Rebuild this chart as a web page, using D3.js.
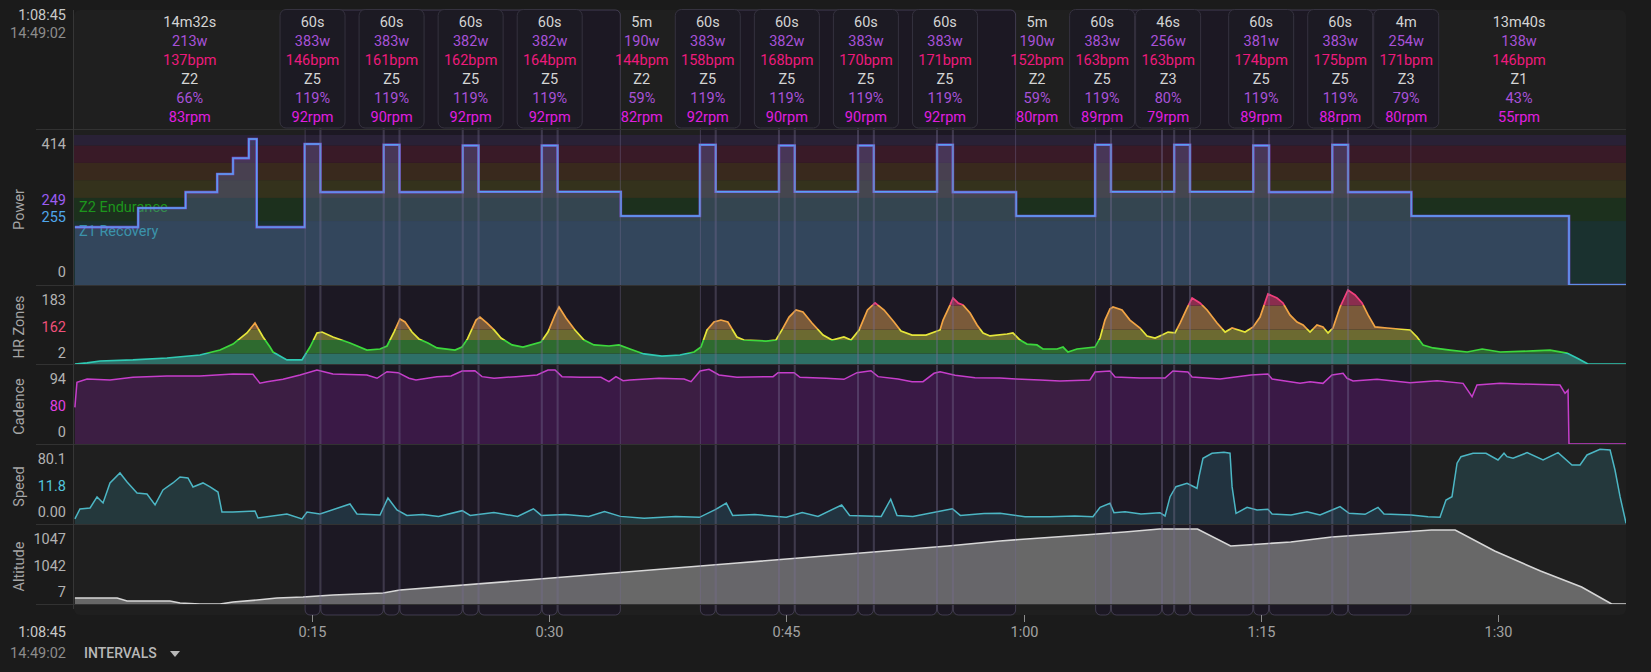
<!DOCTYPE html>
<html>
<head>
<meta charset="utf-8">
<script src="https://cdn.jsdelivr.net/npm/d3@7"></script>
<style>
  body { margin: 0; background: #1b1b1b; overflow: hidden; }
  svg text { font-family: Roboto, "Noto Sans", sans-serif; }
</style>
</head>
<body>
<svg id="chart" width="1651" height="672"></svg>
<script>
// ---- data (time in minutes) ----

// [start, end, duration, watts, bpm, zone, %ftp, rpm, boxed]
const intervalLabels = [
  [0, 14.53, "14m32s", "213w", "137bpm", "Z2", "66%", "83rpm", false],
  [14.53, 15.53, "60s", "383w", "146bpm", "Z5", "119%", "92rpm", true],
  [19.53, 20.53, "60s", "383w", "161bpm", "Z5", "119%", "90rpm", true],
  [24.53, 25.53, "60s", "382w", "162bpm", "Z5", "119%", "92rpm", true],
  [29.53, 30.53, "60s", "382w", "164bpm", "Z5", "119%", "92rpm", true],
  [34.53, 39.53, "5m", "190w", "144bpm", "Z2", "59%", "82rpm", false],
  [39.53, 40.53, "60s", "383w", "158bpm", "Z5", "119%", "92rpm", true],
  [44.53, 45.53, "60s", "382w", "168bpm", "Z5", "119%", "90rpm", true],
  [49.53, 50.53, "60s", "383w", "170bpm", "Z5", "119%", "90rpm", true],
  [54.53, 55.53, "60s", "383w", "171bpm", "Z5", "119%", "92rpm", true],
  [59.53, 64.53, "5m", "190w", "152bpm", "Z2", "59%", "80rpm", false],
  [64.53, 65.53, "60s", "383w", "163bpm", "Z5", "119%", "89rpm", true],
  [68.76, 69.53, "46s", "256w", "163bpm", "Z3", "80%", "79rpm", true],
  [74.53, 75.53, "60s", "381w", "174bpm", "Z5", "119%", "89rpm", true],
  [79.53, 80.53, "60s", "383w", "175bpm", "Z5", "119%", "88rpm", true],
  [80.53, 84.53, "4m", "254w", "171bpm", "Z3", "79%", "80rpm", true],
  [84.53, 98.15, "13m40s", "138w", "146bpm", "Z1", "43%", "55rpm", false]
];

// boundaries of the highlighted interval sets (work + recovery)
const frameBounds = [
  [14.53, 15.53, 19.53, 20.53, 24.53, 25.53, 29.53, 30.53, 34.53],
  [39.53, 40.53, 44.53, 45.53, 49.53, 50.53, 54.53, 55.53, 59.53],
  [64.53, 65.53, 68.76, 69.53, 70.53, 74.53, 75.53, 79.53, 80.53, 84.53]
];

// power steps [start, watts]
const powerSteps = [
  [0, 160], [4, 213], [7, 257], [9, 307], [10, 351], [11, 404], [11.5, 160],
  [14.53, 390], [15.53, 257], [19.53, 388], [20.53, 257], [24.53, 386], [25.53, 258],
  [29.53, 386], [30.53, 258], [34.53, 191], [39.53, 388], [40.53, 258], [44.53, 386],
  [45.53, 258], [49.53, 386], [50.53, 258], [54.53, 388], [55.53, 257], [59.53, 191],
  [64.53, 388], [65.53, 258], [69.53, 388], [70.53, 258], [74.53, 386], [75.53, 257],
  [79.53, 388], [80.53, 257], [84.53, 191], [94.5, 0], [98.15, 0]
];
const powerZoneEdges = [0, 177, 241, 290, 338, 386, 415];
const powerZoneColors = ["#1a3330", "#1c321e", "#36341c", "#3b2a1e", "#3b1a28", "#2a2238"];

const hrSamples = [
  [0, 126], [0.77, 131.7], [1.59, 133], [3.67, 133.7], [5.82, 135], [7.91, 137], [9.18, 140.3],
  [10.0, 144.3], [10.88, 151.7], [11.39, 158.3], [11.9, 149], [12.34, 142.3], [12.53, 139],
  [13.41, 133.7], [14.36, 133.7], [14.87, 142.3], [15.31, 151.7], [15.63, 152.3], [16.32, 149],
  [17.4, 145], [18.47, 140.3], [19.3, 141], [19.74, 143], [20.18, 152.3], [20.56, 161],
  [20.88, 159], [21.32, 152.3], [21.76, 147.7], [22.33, 145], [22.9, 141.7], [24.04, 140.3],
  [24.48, 142.3], [24.83, 147.7], [25.37, 160.3], [25.62, 162.3], [26.07, 158.3], [26.51, 153.7],
  [26.95, 148.3], [27.65, 143.7], [28.34, 142.3], [29.48, 145.7], [29.92, 152.3], [30.37, 163.7],
  [30.62, 169], [31.06, 161.7], [31.63, 153.7], [32.2, 147], [32.83, 143.7], [33.78, 143],
  [34.41, 143.7], [35.11, 141], [35.99, 137.7], [37.13, 136.3], [38.27, 137], [39.16, 139],
  [39.6, 142.3], [39.98, 153.7], [40.42, 159], [40.86, 160.3], [41.3, 159], [41.87, 149],
  [42.32, 147], [43.71, 146.3], [44.34, 147], [44.72, 153.7], [45.17, 162.3], [45.61, 167],
  [46.05, 165.7], [46.62, 158.3], [47.32, 150.3], [47.89, 147], [48.64, 149], [49.09, 147],
  [49.6, 153.7], [50.13, 167], [50.61, 171.7], [51.18, 167], [51.81, 159], [52.25, 153],
  [52.95, 150.3], [53.83, 150.3], [54.72, 153.7], [54.91, 160.3], [55.35, 170.3], [55.54, 175],
  [55.86, 171.7], [56.17, 170.3], [56.62, 165], [57.06, 157], [57.44, 151.7], [57.88, 149.7],
  [58.96, 151], [59.33, 151.7], [59.78, 147], [60.22, 144.3], [60.85, 143.7], [61.23, 141],
  [62.12, 141], [62.5, 142.3], [62.81, 139], [63.38, 141], [64.52, 142.3], [64.84, 148.3],
  [65.15, 160.3], [65.47, 167.7], [65.66, 169], [66.23, 167], [66.73, 160.3], [67.37, 155],
  [67.81, 149.7], [68.32, 148.3], [68.76, 150.3], [69.14, 152.3], [69.58, 151.7], [69.9, 158.3],
  [70.34, 168.3], [70.66, 175], [71.16, 171.7], [71.61, 167], [72.24, 158.3], [72.75, 152.3],
  [73.19, 155], [74.01, 152.3], [74.52, 155.7], [74.96, 162.3], [75.46, 177.7], [76.03, 175],
  [76.41, 171.7], [76.85, 163.7], [77.3, 159], [77.68, 157], [78.12, 152.3], [78.56, 157],
  [78.94, 155.7], [79.26, 151.7], [79.57, 155], [80.02, 169], [80.52, 180.3], [80.97, 177],
  [81.41, 171.7], [81.79, 163.7], [82.23, 155.7], [82.99, 155], [84.45, 153.7], [84.89, 149],
  [85.27, 143.7], [85.9, 141.7], [86.98, 140.3], [88.06, 139], [89.01, 141], [90.15, 139],
  [92.22, 139.7], [93.3, 140.3], [94.37, 138.3], [95.0, 135], [95.7, 131], [96.0, 126], [98.15, 126]
];
const hrZoneEdges = [120, 138, 147, 154, 170, 200];
const hrLineColors = ["#2fcab4", "#3cd83c", "#e6e63a", "#f2a444", "#f23f7c"];
const hrBandColors = ["#2e7068", "#2e6a2f", "#6c6a31", "#7a5a3a", "#8a2d4e"];

const cadenceSamples = [
  [0, 47], [0.13, 79], [0.77, 83.3], [2.22, 82], [3.67, 85.4], [5.82, 87.1], [7.91, 87.1],
  [10.0, 89.7], [11.26, 89.3], [11.7, 78], [12.15, 79.8], [13.16, 82.9], [14.24, 88.4],
  [15.31, 94.8], [16.32, 89.7], [18.47, 88.4], [19.11, 84.2], [19.74, 92.6], [20.44, 91.4],
  [21.13, 84.2], [21.57, 82], [22.9, 86.3], [23.79, 87.1], [24.48, 93.5], [25.3, 93.9],
  [25.75, 86.3], [26.51, 84.2], [27.9, 86.3], [29.23, 88.4], [29.92, 94.8], [30.37, 94.8],
  [30.81, 86.3], [31.95, 85.4], [33.27, 85.4], [33.78, 79.8], [34.22, 86.3], [34.67, 81.1],
  [35.11, 82], [36.94, 84.2], [38.53, 83.3], [38.97, 79.8], [39.54, 93.5], [40.11, 95.7],
  [40.74, 88.4], [41.87, 85.4], [44.16, 86.3], [44.47, 91.4], [45.49, 91.4], [45.86, 85.4],
  [47.51, 84.2], [48.64, 82.9], [49.47, 91.4], [50.35, 93.9], [50.8, 86.3], [52.06, 83.3],
  [52.95, 79.8], [53.64, 79.8], [54.34, 90.6], [54.72, 92.6], [55.67, 88], [56.93, 85],
  [58.51, 84.5], [59.52, 83.3], [61.04, 82], [62.3, 80.7], [64.2, 82], [64.52, 92.2],
  [65.47, 93.5], [65.79, 85.9], [67.37, 84.5], [68.95, 84.5], [69.45, 93.5], [70.4, 92.2],
  [70.66, 85.9], [72.43, 83.3], [74.39, 88.4], [75.46, 89.7], [75.72, 83.3], [77.49, 78],
  [78.12, 79.8], [78.94, 77.7], [79.51, 88.4], [80.21, 90.6], [80.46, 84.2], [80.84, 80.7],
  [82.36, 82.9], [84.45, 78.6], [86.16, 81.1], [87.8, 77.7], [88.37, 60.6], [88.68, 75.6],
  [90.15, 77.7], [92.22, 76.4], [93.93, 75.6], [94.25, 65], [94.44, 69], [94.5, 0], [98.15, 0]
];

const speedSamples = [
  [0, 5.3], [0.32, 15.8], [0.96, 16.8], [1.4, 28.4], [1.78, 22.1], [2.22, 43.1], [2.85, 53.6],
  [3.3, 44.1], [3.93, 32.6], [4.56, 31.5], [5.07, 20], [5.57, 35.7], [6.2, 43.1], [6.65, 49.4],
  [7.15, 48.3], [7.47, 38.9], [8.1, 43.1], [8.55, 38.9], [9.05, 33.6], [9.3, 12.6], [10.0, 12.6],
  [11.39, 13.7], [11.58, 6.3], [13.41, 10.5], [14.36, 5.3], [14.68, 12.6], [15.5, 10.5],
  [17.4, 21], [17.84, 10.5], [19.3, 9.5], [19.8, 27.3], [20.37, 14.7], [21, 9], [22, 10],
  [23, 8], [24.5, 14], [25, 9], [26.5, 12], [28, 8], [29, 16], [29.5, 9], [31, 10], [32.5, 8],
  [33.5, 13], [34.5, 8], [36, 6], [38, 8], [39.5, 7], [40.5, 15], [41.2, 22], [41.6, 9],
  [43, 10], [45, 7], [46, 12], [47, 8], [48.5, 20], [49, 9], [51, 8], [51.6, 26], [52, 9],
  [53, 8], [55.5, 16], [56, 9], [57.5, 11], [58.52, 11.2], [60.1, 7.7], [61.67, 7.7],
  [63.25, 8.4], [64.39, 7.7], [64.84, 17.5], [65.47, 21.7], [65.72, 11.9], [66.42, 12.9],
  [67.43, 10.5], [68.63, 11.9], [68.95, 8.4], [69.27, 28.7], [69.64, 39.2], [70.34, 42.7],
  [70.97, 37.5], [71.1, 49.7], [71.35, 69], [71.92, 74.3], [72.68, 75.3], [73.06, 74.3],
  [73.19, 39.2], [73.44, 11.2], [74.14, 17.5], [74.77, 14.7], [75.46, 15.4], [75.72, 10.5],
  [76.92, 9.5], [77.93, 12.9], [78.75, 9.5], [79.51, 14.7], [80.02, 18.2], [80.59, 11.2],
  [81.6, 10.2], [82.42, 17.5], [82.8, 10.5], [84.51, 9.5], [85.58, 7.7], [86.34, 7],
  [86.72, 25.2], [87.1, 28.7], [87.42, 63.8], [87.67, 70.7], [88.43, 74.3], [89.25, 74.3],
  [90.01, 67.2], [90.39, 74.3], [90.58, 70.7], [90.96, 69], [91.85, 74.9], [92.86, 67.2],
  [93.81, 74.9], [94.69, 62], [95.2, 62], [95.64, 72.5], [96.46, 78.5], [97.1, 77.7],
  [97.41, 56.7], [97.73, 28.7], [98.11, 0.7]
];

const altitudeSamples = [
  [0, 1040.6], [2.67, 1040.6], [3.3, 1040.3], [6.01, 1040.3], [6.65, 1040.1], [7.91, 1040.0],
  [9.18, 1040.0], [10.0, 1040.2], [11.52, 1040.4], [12.78, 1040.6], [14.43, 1040.7],
  [16.33, 1040.9], [19.49, 1041.1], [20.56, 1041.4], [28.6, 1042.4], [41.9, 1044.1],
  [55.2, 1045.8], [58.5, 1046.3], [61.1, 1046.6], [63.8, 1046.9], [66.4, 1047.2], [68.6, 1047.5],
  [71.0, 1047.5], [73.1, 1045.8], [74.1, 1045.9], [76.9, 1046.2], [79.5, 1046.7], [82.2, 1047.0],
  [85.8, 1047.4], [87.3, 1047.4], [89.8, 1045.3], [92.7, 1043.3], [95.3, 1041.7], [97.2, 1040.0],
  [98.15, 1040.0]
];

const panelTitles = ["Power", "HR Zones", "Cadence", "Speed", "Altitude"];
const powerTickLabels = ["414", "249", "255", "0"];
const hrTickLabels = ["183", "162", "2"];
const cadenceTickLabels = ["94", "80", "0"];
const speedTickLabels = ["80.1", "11.8", "0.00"];
const altitudeTickLabels = ["1047", "1042", "7"];
const timeTicks = [15, 30, 45, 60, 75, 90];

function drawActivityChart() {
  const svg = d3.select("#chart");
  const left = 74, right = 1626, cardTop = 10, cardBottom = 615;
  const panels = [
    { top: 129, bottom: 285 },
    { top: 285, bottom: 364 },
    { top: 364, bottom: 444 },
    { top: 444, bottom: 524 },
    { top: 524, bottom: 604 }
  ];

  const x = d3.scaleLinear().domain([0, 98.15]).range([74.9, 1626.7]);
  const yPow = d3.scaleLinear().domain([0, 415]).range([285, 135]);
  const yHr = d3.scaleLinear().domain([131, 183]).range([364, 286]).clamp(true);
  const yCad = d3.scaleLinear().domain([0, 102.5]).range([444, 364]);
  const ySpd = d3.scaleLinear().domain([0, 84]).range([524, 444]);
  const yAlt = d3.scaleLinear().domain([1040, 1048]).range([604, 524]);

  const defs = svg.append("defs");
  panels.forEach((p, i) => {
    defs.append("clipPath").attr("id", "panel-" + i)
      .append("rect")
      .attr("x", left).attr("y", p.top)
      .attr("width", right - left).attr("height", p.bottom - p.top);
  });

  // card
  svg.append("rect")
    .attr("x", left).attr("y", cardTop)
    .attr("width", right - left).attr("height", cardBottom - cardTop)
    .attr("rx", 6)
    .attr("fill", "#1f1f1f");

  // interval frames (fills)
  const frames = [];
  frameBounds.forEach(b => {
    for (let i = 0; i < b.length - 1; i++) frames.push([b[i], b[i + 1]]);
  });
  svg.append("g").selectAll("rect")
    .data(frames)
    .enter().append("rect")
    .attr("x", d => x(d[0]) + 0.5)
    .attr("width", d => x(d[1]) - x(d[0]) - 1)
    .attr("y", cardTop)
    .attr("height", cardBottom - cardTop)
    .attr("rx", 5)
    .attr("fill", "#1c1823");

  // ---- power ----
  const gPow = svg.append("g").attr("clip-path", "url(#panel-0)");
  gPow.selectAll(".pzone")
    .data(powerZoneColors)
    .enter().append("rect")
    .attr("x", left)
    .attr("width", right - left)
    .attr("y", (d, i) => yPow(powerZoneEdges[i + 1]))
    .attr("height", (d, i) => yPow(powerZoneEdges[i]) - yPow(powerZoneEdges[i + 1]))
    .attr("fill", d => d)
    .attr("opacity", 0.95);

  gPow.append("text")
    .attr("x", 79).attr("y", 207).attr("dy", "0.35em")
    .style("font-size", "14.5px")
    .attr("fill", "#1c961c")
    .text("Z2 Endurance");
  gPow.append("text")
    .attr("x", 79).attr("y", 231).attr("dy", "0.35em")
    .style("font-size", "14.5px")
    .attr("fill", "#26a0a0")
    .text("Z1 Recovery");

  const powArea = d3.area()
    .curve(d3.curveStepAfter)
    .x(d => x(d[0]))
    .y0(285)
    .y1(d => yPow(d[1]));
  const powLine = d3.line()
    .curve(d3.curveStepAfter)
    .x(d => x(d[0]))
    .y(d => yPow(d[1]));

  gPow.append("path")
    .datum(powerSteps)
    .attr("d", powArea)
    .attr("fill", "rgba(110,120,200,0.3)");
  gPow.append("path")
    .datum(powerSteps)
    .attr("d", powLine)
    .attr("fill", "none")
    .attr("stroke", "#8656e6")
    .attr("stroke-opacity", 0.85)
    .attr("stroke-width", 2.6);
  gPow.append("path")
    .datum(powerSteps)
    .attr("d", powLine)
    .attr("fill", "none")
    .attr("stroke", "#58a0f2")
    .attr("stroke-width", 1.4);

  // ---- heart rate ----
  const gHr = svg.append("g").attr("clip-path", "url(#panel-1)");
  const hrArea = d3.area()
    .x(d => x(d[0]))
    .y0(364)
    .y1(d => yHr(d[1]));
  const hrLine = d3.line()
    .x(d => x(d[0]))
    .y(d => yHr(d[1]));

  defs.append("clipPath").attr("id", "hr-under")
    .append("path")
    .datum(hrSamples)
    .attr("d", hrArea);

  gHr.append("g")
    .attr("clip-path", "url(#hr-under)")
    .selectAll("rect")
    .data(hrBandColors)
    .enter().append("rect")
    .attr("x", left)
    .attr("width", right - left)
    .attr("y", (d, i) => yHr(hrZoneEdges[i + 1]))
    .attr("height", (d, i) => yHr(hrZoneEdges[i]) - yHr(hrZoneEdges[i + 1]))
    .attr("fill", d => d);

  const hrGrad = defs.append("linearGradient")
    .attr("id", "hr-line-grad")
    .attr("gradientUnits", "userSpaceOnUse")
    .attr("x1", 0).attr("y1", 364)
    .attr("x2", 0).attr("y2", 286);
  const span = 364 - 286;
  hrLineColors.forEach((c, i) => {
    const o0 = Math.max(0, (364 - yHr(hrZoneEdges[i])) / span);
    const o1 = Math.min(1, (364 - yHr(hrZoneEdges[i + 1])) / span);
    hrGrad.append("stop").attr("offset", o0).attr("stop-color", c);
    hrGrad.append("stop").attr("offset", o1).attr("stop-color", c);
  });

  gHr.append("path")
    .datum(hrSamples)
    .attr("d", hrLine)
    .attr("fill", "none")
    .attr("stroke", "url(#hr-line-grad)")
    .attr("stroke-width", 1.7);

  // ---- cadence ----
  const gCad = svg.append("g").attr("clip-path", "url(#panel-2)");
  gCad.append("path")
    .datum(cadenceSamples)
    .attr("d", d3.area().x(d => x(d[0])).y0(444).y1(d => yCad(d[1])))
    .attr("fill", "rgba(160,30,190,0.23)");
  gCad.append("path")
    .datum(cadenceSamples)
    .attr("d", d3.line().x(d => x(d[0])).y(d => yCad(d[1])))
    .attr("fill", "none")
    .attr("stroke", "#c63ecb")
    .attr("stroke-width", 1.5);

  // ---- speed ----
  const gSpd = svg.append("g").attr("clip-path", "url(#panel-3)");
  gSpd.append("path")
    .datum(speedSamples)
    .attr("d", d3.area().x(d => x(d[0])).y0(524).y1(d => ySpd(d[1])))
    .attr("fill", "rgba(60,160,180,0.2)");
  gSpd.append("path")
    .datum(speedSamples)
    .attr("d", d3.line().x(d => x(d[0])).y(d => ySpd(d[1])))
    .attr("fill", "none")
    .attr("stroke", "#4cb6c4")
    .attr("stroke-width", 1.5);

  // ---- altitude ----
  const gAlt = svg.append("g").attr("clip-path", "url(#panel-4)");
  gAlt.append("path")
    .datum(altitudeSamples)
    .attr("d", d3.area().x(d => x(d[0])).y0(604).y1(d => yAlt(d[1])))
    .attr("fill", "rgba(150,150,150,0.62)");
  gAlt.append("path")
    .datum(altitudeSamples)
    .attr("d", d3.line().x(d => x(d[0])).y(d => yAlt(d[1])))
    .attr("fill", "none")
    .attr("stroke", "#d6d6d6")
    .attr("stroke-width", 1.6);

  // frame outlines on top of the data
  svg.append("g").selectAll("rect")
    .data(frames)
    .enter().append("rect")
    .attr("x", d => x(d[0]) + 0.5)
    .attr("width", d => x(d[1]) - x(d[0]) - 1)
    .attr("y", cardTop)
    .attr("height", cardBottom - cardTop)
    .attr("rx", 5)
    .attr("fill", "none")
    .attr("stroke", "rgba(120,110,150,0.4)")
    .attr("stroke-width", 1);

  // ---- header labels ----
  const boxW = 65;
  const placed = intervalLabels.map(d => ({ d: d, cx: (x(d[0]) + x(d[1])) / 2 }));
  for (let i = 1; i < placed.length; i++) {
    const a = placed[i - 1], b = placed[i];
    const overlap = (a.cx + boxW / 2) - (b.cx - boxW / 2) + 1;
    if (overlap > 0) {
      const lenA = a.d[1] - a.d[0], lenB = b.d[1] - b.d[0];
      if (lenB >= lenA) b.cx += overlap; else a.cx -= overlap;
    }
  }

  svg.append("g").selectAll("rect")
    .data(placed.filter(p => p.d[8]))
    .enter().append("rect")
    .attr("x", p => p.cx - boxW / 2)
    .attr("y", 9.5)
    .attr("width", boxW)
    .attr("height", 118.5)
    .attr("rx", 6)
    .attr("fill", "#1c1a23")
    .attr("stroke", "#35323f");

  const rowColors = ["#d4d4d4", "#a852d8", "#ee1a7c", "#d4d4d4", "#a852d8", "#e01ee0"];
  const labelGroups = svg.append("g").selectAll("g")
    .data(placed)
    .enter().append("g")
    .attr("transform", p => `translate(${p.cx},0)`);
  rowColors.forEach((c, r) => {
    labelGroups.append("text")
      .attr("x", 0)
      .attr("y", 22 + r * 18.9)
      .attr("dy", "0.35em")
      .attr("text-anchor", "middle")
      .style("font-size", "14.5px")
      .attr("fill", c)
      .text(p => p.d[2 + r]);
  });

  // separators and left border
  svg.append("g").selectAll("line")
    .data([129, 285, 364, 444, 524, 604])
    .enter().append("line")
    .attr("x1", 36).attr("x2", right)
    .attr("y1", d => d + 0.5).attr("y2", d => d + 0.5)
    .attr("stroke", "#323232");
  svg.append("line")
    .attr("x1", left - 0.5).attr("x2", left - 0.5)
    .attr("y1", cardTop).attr("y2", 609)
    .attr("stroke", "#363636");

  // y labels
  const tickLabel = (txt, y, color) => svg.append("text")
    .attr("x", 66).attr("y", y).attr("dy", "0.35em")
    .attr("text-anchor", "end")
    .style("font-size", "14.5px")
    .attr("fill", color)
    .text(txt);
  const grey = "#b2b2b2";
  const powOffsets = [15, 71, 88, 143];
  const powColors = [grey, "#9c5cf2", "#4fa6ec", grey];
  powerTickLabels.forEach((t, i) => tickLabel(t, panels[0].top + powOffsets[i], powColors[i]));
  const triOffsets = [14.5, 41.5, 68];
  [[hrTickLabels, "#f0507a"], [cadenceTickLabels, "#e040e0"], [speedTickLabels, "#52c6de"], [altitudeTickLabels, grey]]
    .forEach(([labels, mid], k) => {
      const p = panels[k + 1];
      labels.forEach((t, i) => tickLabel(t, p.top + triOffsets[i], i === 1 ? mid : grey));
    });

  // panel titles
  panelTitles.forEach((t, i) => {
    const cy = (panels[i].top + panels[i].bottom) / 2 + 2.5;
    svg.append("text")
      .attr("transform", `translate(19,${cy}) rotate(-90)`)
      .attr("dy", "0.35em")
      .attr("text-anchor", "middle")
      .style("font-size", "14.5px")
      .attr("fill", "#a6a6a6")
      .text(t);
  });

  // time axis
  const fmt = m => Math.floor(m / 60) + ":" + String(m % 60).padStart(2, "0");
  const ticks = svg.append("g").selectAll("g")
    .data(timeTicks)
    .enter().append("g")
    .attr("transform", d => `translate(${Math.round(x(d)) + 0.5},0)`);
  ticks.append("line")
    .attr("y1", 615).attr("y2", 622)
    .attr("stroke", "#8c8c8c");
  ticks.append("text")
    .attr("y", 632).attr("dy", "0.35em")
    .attr("text-anchor", "middle")
    .style("font-size", "14.5px")
    .attr("fill", "#a2a2a2")
    .text(fmt);

  // corner texts
  const corner = (txt, y, color) => svg.append("text")
    .attr("x", 66).attr("y", y).attr("dy", "0.35em")
    .attr("text-anchor", "end")
    .style("font-size", "14.5px")
    .attr("fill", color)
    .text(txt);
  corner("1:08:45", 15, "#c8c8c8");
  corner("14:49:02", 33, "#8c8c8c");
  corner("1:08:45", 632, "#c8c8c8");
  corner("14:49:02", 653, "#8c8c8c");

  svg.append("text")
    .attr("x", 84).attr("y", 653).attr("dy", "0.35em")
    .style("font-size", "14px")
    .style("font-weight", 500)
    .attr("fill", "#b8b8b8")
    .text("INTERVALS");
  svg.append("path")
    .attr("d", "M170,651 L180,651 L175,657 Z")
    .attr("fill", "#b8b8b8");
}

drawActivityChart();
</script>
</body>
</html>
